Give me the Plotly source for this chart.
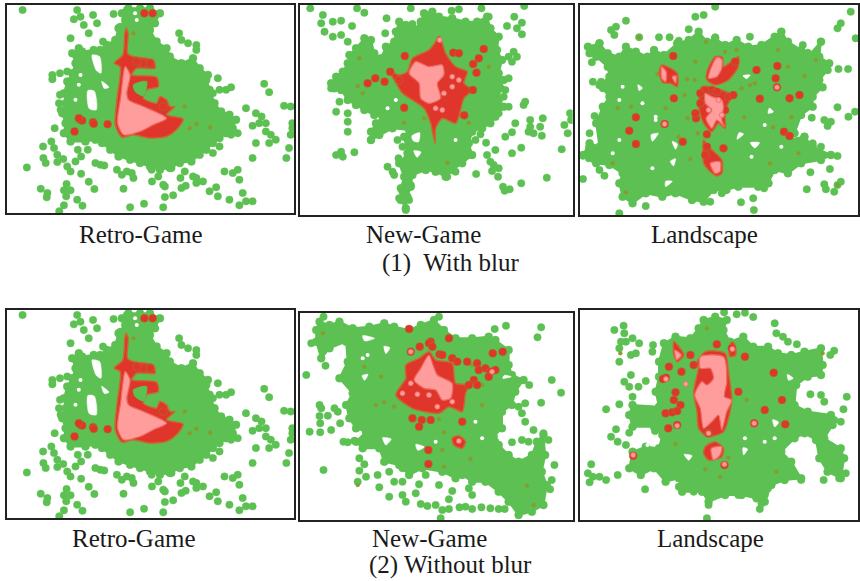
import plotly.graph_objects as go

W, H = 860, 581
GREEN, RED, PINK, OLIVE = "#5cc152", "#e0352b", "#ff9c9c", "#8a9a30"

# ---------- Retro-Game (shared by both rows) ----------
retro_core = [[(215,160),(235,145),(245,155),(280,150),(300,150),(320,135),(345,120),(355,85),(375,60),(365,40),(385,25),(420,25),(450,25),(480,40),(465,70),(450,90),(470,125),(500,145),(510,170),(545,190),(580,175),(600,205),(625,225),(620,240),(630,270),(645,310),(665,335),(690,345),(710,360),(700,385),(680,400),(660,415),(640,430),(620,450),(600,465),(575,485),(540,490),(510,505),(480,510),(450,500),(420,490),(390,480),(355,470),(330,450),(305,430),(285,420),(255,425),(210,425),(190,400),(195,370),(185,340),(195,310),(190,280),(200,245),(215,220),(225,190)]]
retro_hole_polys = [[(275,165),(298,170),(302,220),(288,212)],[(262,272),(282,274),(288,330),(266,326)],[(304,244),(326,262),(312,266)]]
retro_holes = [(405,40),(410,60),(235,255),(225,300),(240,225)]
retro_dots = [(65,30),(230,30),(240,50),(220,58),(278,45),(250,75),(290,70),(265,100),(210,115),(308,125),(340,42),(380,30),(360,80),(538,100),(545,120),(565,130),(590,135),(590,150),(655,235),(660,270),(680,270),(695,262),(640,280),(795,252),(810,277),(740,325),(770,340),(787,350),(760,378),(780,370),(800,370),(800,395),(815,405),(830,420),(810,430),(770,430),(875,320),(855,318),(880,370),(880,385),(875,405),(870,445),(862,475),(760,475),(730,580),(740,605),(760,605),(720,617),(690,600),(655,590),(630,575),(650,563),(610,545),(590,535),(590,550),(715,510),(700,520),(675,515),(720,540),(640,460),(660,440),(715,400),(695,405),(127,440),(152,425),(160,445),(170,465),(128,475),(135,490),(170,487),(188,478),(78,503),(200,500),(210,515),(225,485),(232,450),(242,470),(262,450),(242,522),(285,490),(300,495),(312,497),(265,546),(282,568),(350,510),(365,525),(380,515),(395,520),(400,535),(370,567),(120,567),(140,580),(138,593),(198,553),(190,572),(210,572),(197,590),(190,617),(230,600),(246,618),(176,635),(390,623),(432,612),(490,623),(495,592),(520,587),(456,545),(475,530),(490,555),(495,560),(545,565),(558,558),(542,535),(555,515),(515,505),(450,490),(455,510),(580,530),(155,225),(155,238),(178,220),(200,215),(178,285),(175,310),(180,330),(162,385)]
retro_red = [[(378,85),(384,100),(382,160),(400,170),(460,180),(465,205),(410,205),(395,225),(470,232),(475,260),(440,270),(430,295),(470,310),(480,290),(500,300),(510,320),(525,320),(500,345),(550,358),(530,390),(500,410),(450,415),(400,405),(365,412),(345,375),(350,300),(360,200),(342,190),(368,165),(374,100)]]
retro_inner_green = [[(400,255),(440,245),(430,288),(405,275)]]
retro_pink = [[(375,200),(390,225),(380,280),(385,300),(430,320),(500,355),(460,375),(420,395),(370,405),(352,370),(362,290)]]
retro_spots = [(240,360),(278,367),(322,373),(222,395),(433,40),(458,40),(490,320),(245,362),(280,372),(430,190),(450,190),(410,185),(235,355)]
retro_pink_spots = []
retro_olive = [(590,372),(632,383),(570,385),(555,320),(400,100)]

# ---------- New-Game, with blur ----------
newblur_core = [[(105,250),(120,230),(140,215),(155,190),(160,165),(180,145),(205,115),(225,120),(235,160),(255,175),(270,140),(295,125),(300,95),(310,65),(330,75),(355,90),(375,65),(385,40),(410,35),(430,50),(470,55),(510,65),(545,65),(575,50),(585,85),(610,110),(605,150),(620,180),(610,220),(625,240),(615,265),(610,300),(625,320),(600,350),(585,370),(560,385),(530,395),(520,430),(530,465),(500,490),(470,510),(450,530),(420,515),(390,510),(350,525),(345,560),(335,590),(330,625),(315,600),(315,565),(325,530),(310,490),(335,460),(325,410),(340,390),(290,385),(250,405),(225,420),(225,395),(240,370),(260,350),(235,345),(205,330),(180,315),(155,300),(135,270),(115,265)]]
newblur_hole_polys = [[(348,408),(372,398),(368,426),(352,422)],[(354,452),(376,456),(364,472)]]
newblur_holes = [(275,325),(300,300),(480,420)]
newblur_dots = [(42,25),(80,45),(75,70),(85,95),(110,65),(135,62),(168,78),(110,110),(135,105),(155,125),(205,38),(183,25),(272,55),(268,100),(345,25),(350,72),(468,32),(490,28),(558,25),(580,50),(657,50),(680,68),(635,78),(665,85),(680,103),(687,18),(640,170),(655,155),(665,170),(650,185),(640,235),(630,270),(625,290),(690,305),(685,315),(640,320),(610,340),(660,370),(705,360),(705,380),(743,355),(735,380),(700,395),(740,407),(715,400),(808,375),(825,340),(828,360),(818,400),(800,448),(755,533),(678,550),(643,568),(623,560),(628,572),(678,443),(650,460),(600,450),(575,465),(585,485),(595,495),(610,505),(590,513),(608,530),(542,522),(572,428),(540,420),(555,403),(630,410),(650,397),(120,335),(130,305),(105,265),(155,340),(155,365),(155,395),(120,465),(135,455),(140,470),(175,457),(225,420),(305,420),(320,440),(275,500),(290,515),(295,525),(308,475),(345,555),(320,575),(340,600),(330,630),(310,595),(455,530),(480,515),(520,465),(500,480)]
newblur_red = [[(430,108),(440,130),(450,160),(480,200),(515,215),(505,250),(530,270),(505,295),(490,350),(480,370),(440,355),(420,385),(418,430),(405,370),(385,325),(350,300),(320,280),(295,240),(280,212),(310,225),(335,215),(350,175),(400,150),(420,125)]]
newblur_inner_green = []
newblur_pink = [[(360,185),(400,200),(440,195),(445,225),(425,250),(435,295),(400,310),(375,295),(370,250),(340,220)]]
newblur_spots = [(327,168),(473,158),(490,160),(565,147),(533,192),(543,218),(532,270),(506,346),(215,250),(238,235),(266,245),(325,323),(550,175),(283,215),(310,240)]
newblur_pink_spots = [(432,120),(470,260),(445,280),(490,240),(420,325),(440,330),(470,230)]
newblur_olive = [(190,175),(185,258),(200,280),(325,368),(385,355),(455,488),(520,368),(580,200)]

# ---------- Landscape, with blur ----------
landblur_core = [[(35,140),(70,130),(95,160),(130,170),(150,140),(180,155),(215,170),(235,150),(265,165),(305,130),(340,120),(370,95),(395,125),(420,115),(450,135),(485,120),(520,140),(560,135),(600,110),(620,95),(640,125),(680,150),(700,170),(740,125),(735,170),(765,190),(760,210),(735,240),(745,262),(715,290),(715,320),(680,345),(660,400),(640,420),(690,410),(715,440),(770,465),(740,480),(680,490),(640,520),(600,510),(580,550),(550,560),(490,560),(450,570),(415,570),(385,605),(350,600),(300,580),(260,590),(210,580),(170,610),(140,590),(130,550),(140,520),(100,495),(60,490),(20,465),(40,430),(70,440),(60,370),(80,320),(100,290),(70,255),(100,230),(95,200),(60,170),(40,160)]]
landblur_hole_polys = [[(186,254),(200,264),(190,272)],[(504,227),(526,225),(515,236)],[(584,324),(596,336),(580,340)],[(492,398),(506,402),(486,418)],[(526,428),(554,428),(540,444)],[(226,404),(248,400),(230,424)],[(284,484),(300,476),(294,498)],[(290,424),(306,432),(300,448)],[(270,544),(290,544),(270,560)]]
landblur_holes = [(230,505),(130,300),(140,260),(530,470),(570,375),(130,420),(200,310),(240,360),(620,440),(110,460),(240,350)]
landblur_dots = [(420,20),(385,45),(360,50),(150,62),(120,80),(105,90),(115,105),(190,112),(250,112),(282,112),(310,122),(340,88),(420,112),(800,70),(790,85),(830,35),(845,115),(525,110),(620,95),(740,125),(685,135),(700,158),(793,207),(822,207),(790,322),(823,350),(843,335),(712,353),(750,360),(770,365),(760,378),(690,410),(715,430),(740,440),(770,465),(790,468),(708,517),(767,507),(697,568),(750,553),(790,555),(780,575),(800,545),(755,568),(582,550),(568,565),(535,595),(498,607),(537,630),(405,605),(440,580),(455,570),(210,618),(130,640),(20,537),(20,467),(38,443),(40,400),(55,348),(110,355),(50,245),(75,245),(80,265),(40,145),(70,130),(47,187),(38,475),(55,480),(70,510),(85,527)]
landblur_red = [[(380,260),(440,270),(470,285),(450,330),(450,385),(430,370),(410,395),(385,370),(370,320)],[(420,170),(442,172),(445,200),(490,170),(490,200),(460,240),(420,255),(395,240),(395,215)],[(385,420),(400,440),(440,480),(440,520),(425,528),(400,510),(385,490),(383,450)],[(258,195),(275,200),(305,220),(305,260),(285,250),(262,248),(250,220)]]
landblur_inner_green = []
landblur_pink = [[(425,172),(440,178),(440,205),(425,230),(400,235),(405,210)],[(390,280),(410,290),(440,300),(445,320),(440,360),(448,380),(425,360),(410,385),(392,355),(410,330),(390,310)],[(405,490),(435,485),(435,515),(420,520)],[(258,200),(272,215),(270,245),(258,235)],[(290,230),(302,228),(300,250)]]
landblur_spots = [(293,168),(295,295),(180,352),(267,372),(362,355),(395,403),(607,262),(180,432),(160,392),(322,425),(555,296),(645,295),(675,285),(628,395),(608,198),(603,235),(645,408),(545,210),(445,445),(480,185),(375,280),(375,310),(460,290),(475,285),(450,330),(360,340),(410,270),(425,275),(395,440),(390,465)]
landblur_pink_spots = [(267,372),(607,262),(400,330),(430,300),(440,345)]
landblur_olive = [(190,112),(392,125),(450,155),(485,150),(610,150),(640,200),(725,180),(690,228),(540,250),(500,265),(525,255),(328,285),(360,185),(245,222),(335,238),(358,240),(508,352),(595,382),(650,352),(165,320),(125,325),(270,325),(337,355),(310,410),(367,400),(345,477),(150,577),(110,490),(585,490),(672,460),(790,555)]

# ---------- New-Game, without blur ----------
newplain_core = [[(70,50),(100,60),(130,50),(170,70),(220,65),(265,55),(295,65),(340,75),(375,60),(415,45),(445,75),(480,100),(530,100),(580,95),(600,105),(640,135),(640,180),(650,210),(685,225),(660,260),(650,300),(620,320),(620,370),(595,395),(610,420),(640,450),(670,470),(710,450),(725,410),(745,390),(750,450),(740,500),(755,540),(745,600),(710,620),(670,630),(640,590),(610,560),(570,530),(530,530),(500,510),(480,520),(440,500),(380,490),(340,510),(310,480),(265,470),(250,430),(200,430),(180,410),(210,380),(180,370),(160,340),(150,300),(170,265),(130,220),(155,170),(150,110),(100,130),(75,160),(60,110),(60,75)]]
newplain_hole_polys = [[(200,92),(236,100),(206,108)],[(264,124),(282,128),(270,146)],[(198,212),(216,208),(206,226)],[(627,211),(648,215),(622,220)],[(260,398),(286,402),(270,420)],[(360,418),(386,426),(366,436)]]
newplain_holes = [(540,350),(200,160),(560,400),(420,410),(215,150)]
newplain_dots = [(82,35),(430,35),(45,115),(88,182),(30,210),(632,62),(598,72),(738,67),(727,97),(770,225),(798,263),(702,240),(738,293),(690,295),(670,305),(680,325),(690,350),(715,375),(745,385),(760,405),(70,300),(75,310),(70,333),(95,332),(72,355),(40,380),(72,382),(105,375),(132,355),(142,410),(155,412),(175,407),(115,310),(125,320),(190,460),(205,478),(190,497),(82,495),(210,515),(185,530),(245,510),(250,547),(280,575),(295,530),(280,500),(320,490),(320,530),(320,570),(330,590),(360,565),(370,538),(390,510),(430,540),(470,558),(460,583),(375,597),(395,603),(420,600),(440,615),(460,612),(492,607),(510,605),(530,612),(558,607),(585,610),(610,612),(628,612),(435,640),(520,550),(530,570),(600,540),(628,490),(650,510),(680,510),(770,525),(765,553),(778,480),(700,410),(680,405),(650,412),(600,410)]
newplain_red = [[(400,140),(420,165),(470,175),(480,235),(520,240),(510,265),(500,320),(460,305),(430,325),(350,310),(300,270),(330,220),(330,180),(370,160)],[(470,400),(490,392),(510,410),(500,430),(475,420)]]
newplain_inner_green = []
newplain_pink = [[(400,150),(412,180),(425,210),(470,235),(465,280),(440,285),(420,255),(385,250),(355,225),(375,190)]]
newplain_spots = [(405,110),(345,140),(460,100),(372,125),(592,145),(622,140),(432,148),(378,345),(405,345),(350,340),(500,350),(398,477),(370,365),(398,435),(340,72),(440,150),(470,160),(485,170),(515,170),(545,175),(550,195),(570,190),(585,200),(600,195),(580,215),(535,225),(520,240),(545,240),(400,115),(410,125)]
newplain_pink_spots = [(345,140),(320,265),(365,268),(425,305),(590,200),(345,235),(490,408),(470,290),(400,270)]
newplain_olive = [(80,85),(205,185),(255,215),(240,300),(265,292),(185,540),(695,542),(715,600),(445,485),(525,462),(440,435),(445,382),(560,240),(560,300),(295,305),(430,342),(530,180)]

# ---------- Landscape, without blur ----------
landplain_core = [[(250,170),(265,115),(300,95),(345,100),(370,70),(385,45),(420,35),(455,45),(445,75),(465,110),(505,95),(535,125),(580,125),(610,145),(650,150),(690,140),(740,130),(745,180),(740,210),(700,215),(665,240),(660,300),(700,320),(770,330),(775,360),(750,400),(800,430),(810,460),(800,520),(760,500),(735,460),(725,405),(690,385),(660,400),(620,440),(650,470),(680,520),(630,525),(590,540),(570,590),(545,580),(500,570),(450,570),(400,590),(380,560),(320,560),(310,520),(270,530),(235,490),(195,510),(160,490),(170,440),(210,425),(250,430),(260,390),(235,365),(170,365),(160,330),(170,300),(250,305),(240,260),(250,215)]]
landplain_hole_polys = [[(638,208),(656,220),(642,226)],[(594,344),(612,352),(600,366)],[(326,448),(350,452),(340,466)],[(504,428),(518,432),(506,450)]]
landplain_holes = [(510,400),(570,410),(215,420),(600,400)]
landplain_dots = [(115,75),(143,62),(145,85),(135,110),(150,110),(170,100),(190,115),(130,130),(180,145),(130,170),(165,150),(232,120),(230,140),(165,210),(145,230),(160,245),(188,245),(210,228),(170,275),(130,298),(90,313),(120,373),(105,395),(160,383),(125,410),(150,420),(238,378),(818,275),(808,313),(708,268),(740,270),(750,290),(800,350),(780,345),(600,55),(605,85),(625,95),(640,110),(667,118),(780,137),(768,150),(447,22),(485,28),(510,23),(535,36),(395,640),(400,600),(555,612),(560,595),(545,577),(580,550),(570,570),(680,525),(748,525),(795,520),(815,505),(45,478),(35,505),(50,515),(40,532),(70,515),(90,525),(125,510),(208,553),(310,545),(355,560),(430,568),(490,570)]
landplain_red = [[(390,140),(450,145),(460,200),(470,280),(465,320),(445,380),(395,395),(370,370),(365,320),(355,260),(370,180),(355,190)],[(295,110),(325,150),(305,170),(295,150)],[(470,110),(480,120),(482,150),(465,155),(462,135)],[(390,425),(420,410),(445,430),(440,455),(400,465),(385,445)]]
landplain_inner_green = []
landplain_pink = [[(375,155),(445,155),(455,230),(448,275),(470,285),(455,320),(440,375),(430,330),(410,350),(385,370),(375,310),(358,270),(380,230),(395,240),(415,220),(405,190),(375,190)],[(298,135),(318,150),(303,165)],[(408,430),(440,425),(435,450),(415,465)]]
landplain_spots = [(271,218),(262,222),(300,262),(295,285),(315,300),(270,325),(290,322),(305,318),(278,370),(305,360),(510,155),(597,203),(622,285),(570,315),(632,358),(538,355),(172,452),(280,185),(318,200),(345,150),(425,118),(448,480),(400,385),(490,260),(355,180),(470,130)]
landplain_pink_spots = [(331,237),(271,222),(305,362),(172,450),(538,355),(400,385),(448,478),(472,132)]
landplain_olive = [(395,70),(133,145),(745,145),(605,500),(435,515),(390,493),(300,417),(515,285),(460,458)]

# Panels: frame in page pixels, and the range of the reading scale
panels = [
    ("", (7,5,295,213), (18,886), (640,15), retro_core, retro_hole_polys, retro_holes, retro_dots, retro_red, retro_inner_green, retro_pink, retro_spots, retro_pink_spots, retro_olive),
    ("2", (301,5,574,215), (12,833), (645,15), newblur_core, newblur_hole_polys, newblur_holes, newblur_dots, newblur_red, newblur_inner_green, newblur_pink, newblur_spots, newblur_pink_spots, newblur_olive),
    ("3", (581,5,860,215), (10,852), (645,15), landblur_core, landblur_hole_polys, landblur_holes, landblur_dots, landblur_red, landblur_inner_green, landblur_pink, landblur_spots, landblur_pink_spots, landblur_olive),
    ("4", (7,310,295,518), (18,886), (640,15), retro_core, retro_hole_polys, retro_holes, retro_dots, retro_red, retro_inner_green, retro_pink, retro_spots, retro_pink_spots, retro_olive),
    ("5", (301,313,574,520), (12,833), (645,24), newplain_core, newplain_hole_polys, newplain_holes, newplain_dots, newplain_red, newplain_inner_green, newplain_pink, newplain_spots, newplain_pink_spots, newplain_olive),
    ("6", (581,310,860,520), (10,852), (645,15), landplain_core, landplain_hole_polys, landplain_holes, landplain_dots, landplain_red, landplain_inner_green, landplain_pink, landplain_spots, landplain_pink_spots, landplain_olive),
]

captions = [("Retro-Game",141,234),("New-Game",424,234),("Landscape",706,234),("(1)  With blur",452,263),
            ("Retro-Game",134,538),("New-Game",431,538),("Landscape",712,538),("(2) Without blur",452,565)]

def xs(pts): return [p[0] for p in pts]
def ys(pts): return [p[1] for p in pts]

fig = go.Figure()
layout = {}
for sfx, frame, xr, yr, core, hole_polys, holes, dots, red, inner, pink, spots, pspots, olive in panels:
    xa, ya = "x"+sfx, "y"+sfx
    def poly(pts, fill, line, lw, shape="linear"):
        fig.add_trace(go.Scatter(x=xs(pts)+[pts[0][0]], y=ys(pts)+[pts[0][1]], xaxis=xa, yaxis=ya, mode="lines",
                                 fill="toself", fillcolor=fill,
                                 line=dict(color=line, width=lw, shape=shape, smoothing=0.7 if shape == "spline" else None),
                                 hoverinfo="skip", showlegend=False))
    def pts_trace(pts, color, size, edge=None):
        if pts:
            fig.add_trace(go.Scatter(x=xs(pts), y=ys(pts), xaxis=xa, yaxis=ya, mode="markers",
                                     marker=dict(color=color, size=size, line=dict(color=edge or color, width=0.8 if edge else 0)),
                                     hoverinfo="skip", showlegend=False))
    for c in core:
        poly(c, GREEN, GREEN, 2)
        pts_trace(c, GREEN, 8, "rgba(92,193,82,0.45)")
    for h in hole_polys:
        poly(h, "white", "white", 0.5, "spline")
    pts_trace(holes, "white", 4)
    pts_trace(dots, GREEN, 7.5, "rgba(92,193,82,0.45)")
    pts_trace(olive, OLIVE, 4, "rgba(138,154,48,0.4)")
    for r in red:
        poly(r, RED, "#c9692f", 1.5, "spline")
    for g in inner:
        poly(g, GREEN, GREEN, 1, "spline")
    pts_trace(spots, RED, 8, "rgba(150,130,40,0.6)")
    for p in pink:
        poly(p, PINK, "#ee6a63", 1.2, "spline")
    pts_trace(pspots, PINK, 5, "#ee6a63")
    x0, y0, x1, y1 = frame
    common = dict(showgrid=False, zeroline=False, showticklabels=False, ticks="", showline=True,
                  mirror=True, linecolor="#222222", linewidth=2)
    layout["xaxis"+sfx] = dict(domain=[x0/W, x1/W], range=list(xr), anchor=ya, **common)
    layout["yaxis"+sfx] = dict(domain=[1-y1/H, 1-y0/H], range=list(yr), anchor=xa, **common)

annotations = [dict(text=t, x=cx/W, y=1-cy/H, xref="paper", yref="paper", showarrow=False, xanchor="center", yanchor="middle",
                    font=dict(family="Liberation Serif", size=25, color="#1a1a1a")) for t, cx, cy in captions]
fig.update_layout(width=W, height=H, margin=dict(l=0, r=0, t=0, b=0), paper_bgcolor="white", plot_bgcolor="white",
                  showlegend=False, annotations=annotations, **layout)
fig.write_html("out.html", post_script="document.body.style.margin='0';", config={"displayModeBar": False})
